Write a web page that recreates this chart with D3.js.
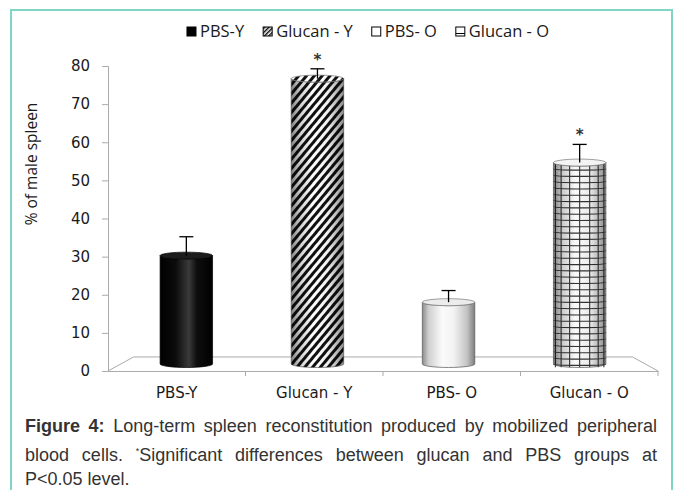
<!DOCTYPE html>
<html>
<head>
<meta charset="utf-8">
<script src="https://cdn.jsdelivr.net/npm/d3@7"></script>
<style>
  body { margin: 0; background: #fff; }
  #wrap { position: relative; width: 675px; height: 490px; overflow: hidden; }
  #caption {
    position: absolute; left: 25px; top: 414px; width: 632px;
    font-family: "Liberation Sans", Arial, sans-serif; font-size: 18px;
    line-height: 24.5px; color: #333;
  }
  #caption .j { display: block; text-align: justify; text-align-last: justify; }
  #caption .l { display: block; }
</style>
</head>
<body>
<div id="wrap"></div>
<script>
(function () {

	'use strict';

	var categories = ['PBS-Y', 'Glucan - Y', 'PBS- O', 'Glucan - O'];
	var means = [29.8, 78.5, 17, 55.4];
	var errors = [5.2, 2.7, 3.2, 5];
	var significant = [false, true, false, true];
	var yTicks = [0, 10, 20, 30, 40, 50, 60, 70, 80];
	var captionLines = [
		['Figure 4:', ' Long-term spleen reconstitution produced by mobilized peripheral'],
		['', 'blood cells. ', '*', 'Significant differences between glucan and PBS groups at'],
		['', 'P<0.05 level.']
	];

	var width = 675, height = 490;
	var axisColor = '#ababab';

	var wrap = d3.select('#wrap');
	var svg = wrap.append('svg')
		.attr('width', width)
		.attr('height', height);

	var defs = svg.append('defs');

	// frame round the figure
	svg.append('path')
		.attr('d', 'M11,' + height + 'V10H672V' + height)
		.attr('fill', 'none')
		.attr('stroke', '#7fd6c6')
		.attr('stroke-width', 2);

	var x = d3.scaleBand().domain(categories).range([108, 658]).padding(0);
	var y = d3.scaleLinear().domain([0, 80]).range([371, 66]);

	// simple perspective: depth 0 = front plane, 1 = back plane
	var vx = (x.range()[0] + x.range()[1]) / 2;
	var vy = 220;
	function project(px, py, depth) {
		var s = 1 - 0.093 * depth;
		return [vx + s * (px - vx), vy + s * (py - vy)];
	}

	// floor
	var f0 = project(x.range()[0], y(0), 0),
		f1 = project(x.range()[1], y(0), 0),
		b0 = project(x.range()[0], y(0), 1),
		b1 = project(x.range()[1], y(0), 1);
	svg.append('path')
		.attr('d', 'M' + f0 + 'L' + b0 + 'L' + b1 + 'L' + f1)
		.attr('fill', 'none')
		.attr('stroke', axisColor)
		.attr('stroke-width', 1);

	// value axis
	var yAxis = svg.append('g')
		.attr('transform', 'translate(' + x.range()[0] + ',0)')
		.call(d3.axisLeft(y).tickValues(yTicks).tickSize(6).tickPadding(12));
	yAxis.select('.domain').attr('stroke', axisColor);
	yAxis.selectAll('.tick line').attr('stroke', axisColor);
	yAxis.selectAll('.tick text')
		.attr('font-family', '"DejaVu Sans", Verdana, sans-serif')
		.attr('font-size', 15)
		.attr('fill', '#1a1a1a');

	// category axis
	var xAxis = svg.append('g')
		.attr('transform', 'translate(0,' + y(0) + ')')
		.call(d3.axisBottom(x).tickSize(0).tickPadding(16));
	xAxis.select('.domain').attr('stroke', axisColor);
	xAxis.selectAll('.tick text')
		.attr('font-family', '"DejaVu Sans", Verdana, sans-serif')
		.attr('font-size', 15)
		.attr('fill', '#1a1a1a');
	xAxis.selectAll('.sep')
		.data(categories)
		.enter().append('line')
		.attr('class', 'sep')
		.attr('x1', function (d) { return x(d) + x.bandwidth(); })
		.attr('x2', function (d) { return x(d) + x.bandwidth(); })
		.attr('y1', 0).attr('y2', 5)
		.attr('stroke', axisColor);

	// fills
	function hGrad(id, stops) {
		var g = defs.append('linearGradient').attr('id', id)
			.attr('x1', '0%').attr('x2', '100%').attr('y1', '0%').attr('y2', '0%');
		stops.forEach(function (s) {
			g.append('stop').attr('offset', s[0])
				.attr('stop-color', s[1])
				.attr('stop-opacity', s[2] === undefined ? 1 : s[2]);
		});
	}
	hGrad('gBlack', [[0, '#000'], [0.3, '#0c0c0c'], [0.55, '#3a3a3a'], [0.7, '#0e0e0e'], [1, '#000']]);
	hGrad('gWhite', [[0, '#8c8c8c'], [0.12, '#cfcfcf'], [0.38, '#fbfbfb'], [0.6, '#f2f2f2'], [0.85, '#c4c4c4'], [1, '#7e7e7e']]);
	hGrad('gShade', [[0, '#000', 0.5], [0.18, '#000', 0.18], [0.42, '#000', 0], [0.7, '#000', 0.06], [1, '#000', 0.45]]);

	var hatch = defs.append('pattern').attr('id', 'hatch')
		.attr('patternUnits', 'userSpaceOnUse')
		.attr('width', 6).attr('height', 6)
		.attr('patternTransform', 'rotate(40)');
	hatch.append('rect').attr('width', 6).attr('height', 6).attr('fill', '#fff');
	hatch.append('rect').attr('width', 3).attr('height', 6).attr('fill', '#111');

	var hatchSmall = defs.append('pattern').attr('id', 'hatchSmall')
		.attr('patternUnits', 'userSpaceOnUse')
		.attr('width', 3).attr('height', 3)
		.attr('patternTransform', 'rotate(45)');
	hatchSmall.append('rect').attr('width', 3).attr('height', 3).attr('fill', '#fff');
	hatchSmall.append('rect').attr('width', 1.5).attr('height', 3).attr('fill', '#111');

	var barDepth = 0.5;
	var ry = 3.5;

	var bars = categories.map(function (c, i) {
		var cxFront = x(c) + x.bandwidth() / 2;
		var halfFront = x.bandwidth() * 0.2;
		var top = project(cxFront, y(means[i]), barDepth);
		var bot = project(cxFront, y(0), barDepth);
		var edge = project(cxFront + halfFront, y(0), barDepth);
		var err = project(cxFront, y(means[i] + errors[i]), barDepth);
		return { cat: c, i: i, cx: top[0], r: edge[0] - top[0], yt: top[1], yb: bot[1], ye: err[1] };
	});

	function bodyPath(b) {
		return 'M' + (b.cx - b.r) + ',' + b.yt +
			'L' + (b.cx - b.r) + ',' + b.yb +
			'A' + b.r + ',' + ry + ' 0 0 0 ' + (b.cx + b.r) + ',' + b.yb +
			'L' + (b.cx + b.r) + ',' + b.yt +
			'A' + b.r + ',' + ry + ' 0 0 1 ' + (b.cx - b.r) + ',' + b.yt + 'Z';
	}

	var baseFill = ['url(#gBlack)', 'url(#hatch)', 'url(#gWhite)', '#fafafa'];
	var topFill = ['#1c1c1c', 'url(#hatch)', '#ececec', '#f4f4f4'];

	var g = svg.append('g');
	bars.forEach(function (b) {
		var bg = g.append('g');
		bg.append('path').attr('d', bodyPath(b)).attr('fill', baseFill[b.i]);

		if (b.i === 3) {
			// grid wrapped round the cylinder
			var rows = d3.range(b.yb, b.yt, -6.3);
			bg.selectAll('.row').data(rows).enter().append('path')
				.attr('d', function (yy) {
					return 'M' + (b.cx - b.r) + ',' + yy + 'A' + b.r + ',' + (ry * 0.4) + ' 0 0 0 ' + (b.cx + b.r) + ',' + yy;
				})
				.attr('fill', 'none').attr('stroke', '#333').attr('stroke-width', 1.1);
			var cols = d3.range(-67.5, 68, 22.5);
			bg.selectAll('.col').data(cols).enter().append('line')
				.attr('x1', function (a) { return b.cx + b.r * Math.sin(a * Math.PI / 180); })
				.attr('x2', function (a) { return b.cx + b.r * Math.sin(a * Math.PI / 180); })
				.attr('y1', b.yt).attr('y2', b.yb + ry * 0.9)
				.attr('stroke', '#333').attr('stroke-width', 1.1);
		}
		if (b.i === 1 || b.i === 3) {
			bg.append('path').attr('d', bodyPath(b)).attr('fill', 'url(#gShade)');
		}
		bg.append('path').attr('d', bodyPath(b))
			.attr('fill', 'none').attr('stroke', b.i === 0 ? '#000' : '#555').attr('stroke-width', 0.7);
		bg.append('ellipse')
			.attr('cx', b.cx).attr('cy', b.yt).attr('rx', b.r).attr('ry', ry)
			.attr('fill', topFill[b.i])
			.attr('stroke', b.i === 0 ? '#000' : '#777').attr('stroke-width', 0.7);

		// error bar
		bg.append('line')
			.attr('x1', b.cx).attr('x2', b.cx).attr('y1', b.yt).attr('y2', b.ye)
			.attr('stroke', '#000').attr('stroke-width', 1.3);
		bg.append('line')
			.attr('x1', b.cx - 7).attr('x2', b.cx + 7).attr('y1', b.ye).attr('y2', b.ye)
			.attr('stroke', '#000').attr('stroke-width', 1.3);

		if (significant[b.i]) {
			bg.append('text')
				.attr('x', b.cx).attr('y', b.ye - 4)
				.attr('text-anchor', 'middle')
				.attr('font-family', '"DejaVu Sans", sans-serif')
				.attr('font-size', 15)
				.attr('font-weight', 'bold')
				.attr('fill', '#333')
				.text('*');
		}
	});

	// y title
	svg.append('text')
		.attr('transform', 'translate(37,164) rotate(-90)')
		.attr('text-anchor', 'middle')
		.attr('font-family', '"Open Sans", sans-serif')
		.attr('font-size', 15.5)
		.attr('fill', '#1a1a1a')
		.text('% of male spleen');

	// legend
	var legend = svg.append('g').attr('transform', 'translate(0,32)');
	var swatchFill = ['#000', 'url(#hatchSmall)', '#fff', '#fff'];
	var items = legend.selectAll('.item').data(categories).enter().append('g').attr('class', 'item');
	items.append('text')
		.attr('x', 13).attr('y', 5)
		.attr('font-family', '"Open Sans", sans-serif')
		.attr('font-size', 16.5)
		.attr('fill', '#1a1a1a')
		.text(function (d) { return d; });
	items.append('rect')
		.attr('x', 0).attr('y', -5).attr('width', 9).attr('height', 9)
		.attr('fill', function (d, i) { return swatchFill[i]; })
		.attr('stroke', '#000').attr('stroke-width', 1);
	items.filter(function (d, i) { return i === 3; }).append('line')
		.attr('x1', 0).attr('x2', 9).attr('y1', 1.5).attr('y2', 1.5)
		.attr('stroke', '#000').attr('stroke-width', 1);
	var widths = [];
	items.select('text').each(function () { widths.push(this.getComputedTextLength() + 13); });
	var gap = 19;
	var total = d3.sum(widths) + gap * (widths.length - 1);
	var lx = 368 - total / 2;
	items.attr('transform', function (d, i) {
		var t = 'translate(' + lx + ',0)';
		lx += widths[i] + gap;
		return t;
	});

	// caption
	var cap = wrap.append('div').attr('id', 'caption');
	captionLines.forEach(function (parts, li) {
		var line = cap.append('span').attr('class', li < 2 ? 'j' : 'l');
		if (parts[0]) line.append('b').text(parts[0]);
		parts.slice(1).forEach(function (p) {
			if (p === '*') line.append('sup').style('font-size', '9px').text('*');
			else line.append('span').text(p);
		});
	});

})();
</script>
</body>
</html>
